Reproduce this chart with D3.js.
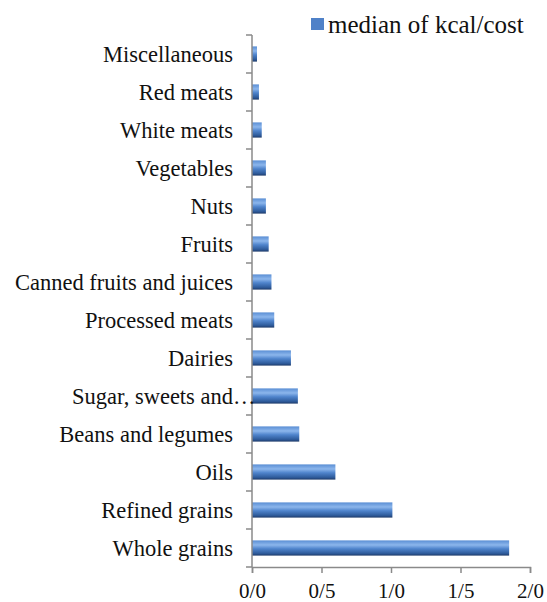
<!DOCTYPE html>
<html>
<head>
<meta charset="utf-8">
<script src="https://cdn.jsdelivr.net/npm/d3@7/dist/d3.min.js"></script>
<style>
  html, body { margin: 0; padding: 0; background: #fff; }
  svg { display: block; }
  text { font-family: "Liberation Serif", "Times New Roman", serif; fill: #111; }
</style>
</head>
<body>
<svg id="chart" width="547" height="602"></svg>
<script>
  // categories top -> bottom
  const categories = [
    "Miscellaneous", "Red meats", "White meats", "Vegetables", "Nuts", "Fruits",
    "Canned fruits and juices", "Processed meats", "Dairies", "Sugar, sweets and",
    "Beans and legumes", "Oils", "Refined grains", "Whole grains"
  ];
  const medianKcalCost = [0.036, 0.05, 0.07, 0.10, 0.10, 0.12, 0.14, 0.16, 0.28, 0.33, 0.34, 0.60, 1.01, 1.85];
  const xTicks = [0, 0.5, 1.0, 1.5, 2.0];
  const xTickLabels = ["0/0", "0/5", "1/0", "1/5", "2/0"];
  const legendLabel = "median of kcal/cost";

  const svg = d3.select("#chart");
  const margin = { left: 252, top: 35, right: 17, bottom: 35 };
  const width = 547, height = 602;

  const x = d3.scaleLinear().domain([0, 2]).range([margin.left, width - margin.right]);
  const y = d3.scaleBand().domain(categories).range([margin.top, height - margin.bottom]).paddingInner(0.6).paddingOuter(0.3);

  // bar gradient (excel style)
  const defs = svg.append("defs");
  const grad = defs.append("linearGradient").attr("id", "barGrad")
    .attr("x1", 0).attr("y1", 0).attr("x2", 0).attr("y2", 1);
  [["0%", "#5a8ed4"], ["30%", "#8cb6ec"], ["55%", "#4f84cc"], ["85%", "#2f5c9c"], ["100%", "#1e3b6a"]]
    .forEach(([o, c]) => grad.append("stop").attr("offset", o).attr("stop-color", c));

  // bars
  svg.append("g").selectAll("rect")
    .data(categories)
    .join("rect")
    .attr("x", x(0))
    .attr("y", (d) => y(d))
    .attr("width", (d, i) => x(medianKcalCost[i]) - x(0))
    .attr("height", y.bandwidth())
    .attr("fill", "url(#barGrad)");

  // y axis line + ticks at band boundaries
  const axisColor = "#8a8a8a";
  const yAxis = svg.append("g");
  yAxis.append("line")
    .attr("x1", x(0)).attr("x2", x(0))
    .attr("y1", margin.top).attr("y2", height - margin.bottom)
    .attr("stroke", axisColor).attr("stroke-width", 1.5);
  const step = y.step();
  const boundaries = d3.range(categories.length + 1).map((i) => margin.top + i * step);
  yAxis.selectAll("line.tick")
    .data(boundaries)
    .join("line")
    .attr("class", "tick")
    .attr("x1", x(0) - 6).attr("x2", x(0))
    .attr("y1", (d) => d).attr("y2", (d) => d)
    .attr("stroke", axisColor).attr("stroke-width", 1.5);

  // category labels
  const labelX = 233;
  const labels = svg.append("g");
  labels.selectAll("text")
    .data(categories)
    .join("text")
    .attr("x", labelX)
    .attr("y", (d) => y(d) + y.bandwidth() / 2)
    .attr("dy", "0.35em")
    .attr("text-anchor", "end")
    .attr("font-size", 22.5)
    .text((d) => d);
  labels.append("text")
    .attr("x", labelX)
    .attr("y", y("Sugar, sweets and") + y.bandwidth() / 2)
    .attr("dy", "0.35em")
    .attr("font-size", 22.5)
    .text("…");

  // x axis
  const xAxis = d3.axisBottom(x)
    .tickValues(xTicks)
    .tickFormat((d, i) => xTickLabels[i])
    .tickSize(6)
    .tickPadding(10);
  const gx = svg.append("g")
    .attr("transform", `translate(0,${height - margin.bottom})`)
    .call(xAxis);
  gx.select(".domain").attr("stroke", axisColor).attr("stroke-width", 1.5);
  gx.selectAll(".tick line").attr("stroke", axisColor).attr("stroke-width", 1.5);
  gx.selectAll(".tick text")
    .attr("font-size", 21)
    .attr("font-family", "Liberation Serif, Times New Roman, serif")
    .attr("fill", "#111");

  // legend
  const legend = svg.append("g");
  legend.append("rect")
    .attr("x", 311).attr("y", 18).attr("width", 13).attr("height", 12)
    .attr("fill", "#4f81c8");
  legend.append("text")
    .attr("x", 328).attr("y", 24)
    .attr("dy", "0.35em")
    .attr("font-size", 25)
    .text(legendLabel);
</script>
</body>
</html>
